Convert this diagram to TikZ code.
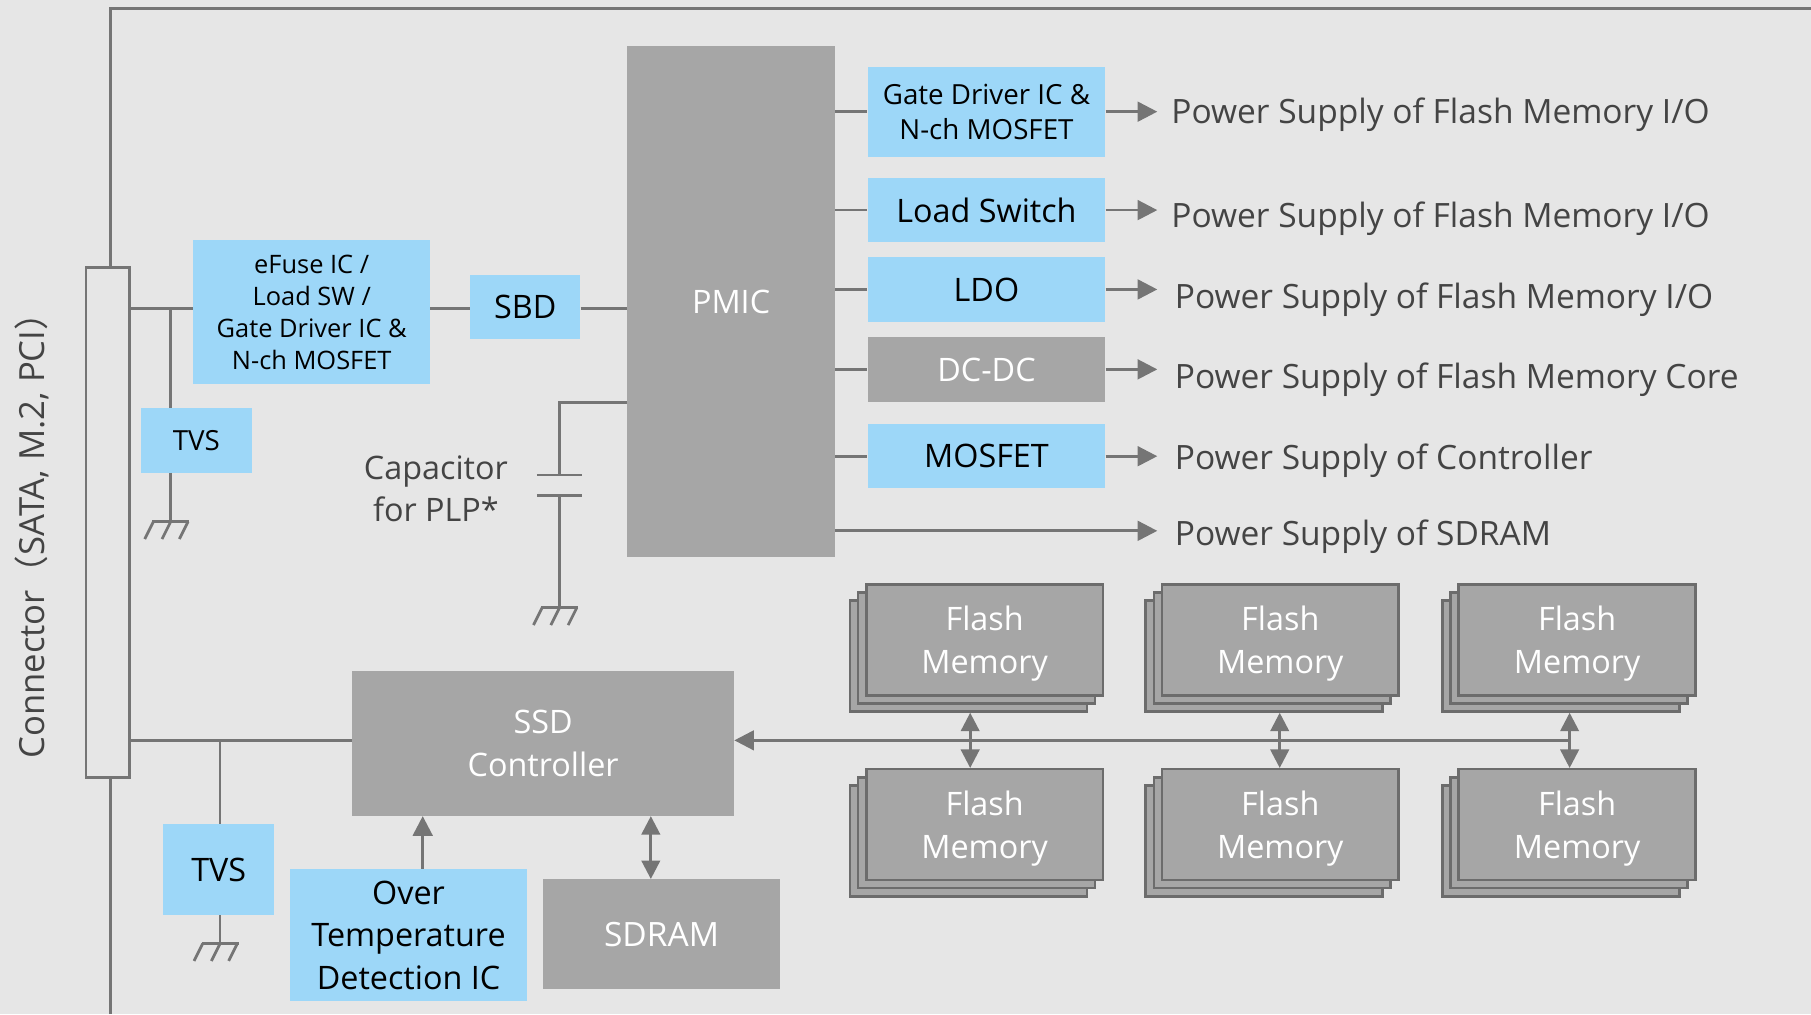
\documentclass[tikz,border=0pt]{standalone}
\usepackage{fontspec}
\setmainfont{Open Sans}
\newfontfamily\cjk{Noto Sans CJK JP}
\usepackage{tikz}
\usetikzlibrary{arrows.meta,positioning}
\definecolor{bggrey}{RGB}{230,230,230}
\definecolor{wiregrey}{RGB}{117,117,117}
\definecolor{boxgrey}{RGB}{166,166,166}
\definecolor{edgegrey}{RGB}{108,108,108}
\definecolor{skyblue}{RGB}{157,215,248}
\definecolor{labelgrey}{RGB}{68,68,68}
\newcommand{\gnd}[1]{\draw[wire] ([xshift=-16pt]#1) -- ([xshift=16pt]#1);
  \foreach \d in {-15,0,15} \draw[wire] ([xshift=\d pt]#1) -- ++(-7.5,15);}

\begin{document}
\begin{tikzpicture}
              [x=1pt,y=-1pt,
                every node/.style={rectangle,draw=none,inner sep=0pt,align=center,text depth=0pt},
                wire/.style={draw=wiregrey,line width=2.4pt},
                arr/.style={wire,-{Triangle[length=17pt,width=17pt]}},
                dbl/.style={wire,{Triangle[length=16pt,width=16pt]}-{Triangle[length=16pt,width=16pt]}},
                bluebox/.style={fill=skyblue,text=black},
                greybox/.style={fill=boxgrey,text=white},
                flash/.style={greybox,draw=edgegrey,line width=2.2pt,minimum width=205pt,minimum height=96pt,font=\fontsize{28}{37}\selectfont},
                supply/.style={anchor=base west,text=labelgrey,font=\fontsize{29}{36}\selectfont}]
              \useasboundingbox (0,0) rectangle (1568,878);
              \fill[bggrey] (0,0) rectangle (1568,878);
              \draw[wire] (96,878) -- (96,7.2) -- (1568,7.2);
              % connector side
              \node[draw=wiregrey,line width=2.4pt,fill=bggrey,minimum width=37.5pt,minimum height=441.6pt] (conn) at (93.25,452.6) {};
              \node[rotate=90,anchor=base west,text=labelgrey,font=\fontsize{30}{36}\selectfont] (conntext) at (38.5,657) {Connector{\cjk （}SATA, M.2, PCI{\cjk ）}};
              \node[bluebox,minimum width=205pt,minimum height=125pt,font=\fontsize{22}{27.7}\selectfont] (efuse) at (269.9,270.3) {eFuse IC /\\Load SW /\\Gate Driver IC \&\\N-ch MOSFET};
              \node[bluebox,minimum width=96pt,minimum height=56pt,font=\fontsize{24}{30}\selectfont] (tvsa) at (170,381.3) {TVS};
              \node[bluebox,minimum width=95.6pt,minimum height=55.8pt,font=\fontsize{28}{34}\selectfont] (sbd) at (454.8,265.9) {SBD};
              \node[greybox,minimum width=180pt,minimum height=442.2pt,font=\fontsize{28}{34}\selectfont] (pmic) at (633,260.9) {PMIC};
              % regulators
              \node[bluebox,minimum width=205.8pt,minimum height=78pt,font=\fontsize{24}{30.4}\selectfont] (gd) at (854.1,96.7) {Gate Driver IC \&\\N-ch MOSFET};
              \node[bluebox,minimum width=205.8pt,minimum height=56pt,font=\fontsize{28}{34}\selectfont] (ls) at (854.1,181.9) {Load Switch};
              \node[bluebox,minimum width=205.8pt,minimum height=56pt,font=\fontsize{28}{34}\selectfont] (ldo) at (854.1,250.6) {LDO};
              \node[greybox,minimum width=205.8pt,minimum height=56.3pt,font=\fontsize{28}{34}\selectfont] (dc) at (854.1,319.8) {DC-DC};
              \node[bluebox,minimum width=205.8pt,minimum height=55.7pt,font=\fontsize{28}{34}\selectfont] (mos) at (854.1,395) {MOSFET};
              \node[supply] (s1) at (1014,106.8) {Power Supply of Flash Memory I/O};
              \node[supply] (s2) at (1014,197.2) {Power Supply of Flash Memory I/O};
              \node[supply] (s3) at (1017,267) {Power Supply of Flash Memory I/O};
              \node[supply] (s4) at (1017,336.3) {Power Supply of Flash Memory Core};
              \node[supply] (s5) at (1017,406.4) {Power Supply of Controller};
              \node[supply] (s6) at (1017,472) {Power Supply of SDRAM};
              \node[text=labelgrey,font=\fontsize{28}{36}\selectfont] (cap) at (377.4,423) {Capacitor\\for PLP*};
              % controller side
              \node[greybox,minimum width=330.6pt,minimum height=125.4pt,font=\fontsize{28}{37}\selectfont] (ctrl) at (470.3,643.7) {SSD\\Controller};
              \node[bluebox,minimum width=96pt,minimum height=78.8pt,font=\fontsize{28}{34}\selectfont] (tvsb) at (189.4,753) {TVS};
              \node[bluebox,minimum width=205.4pt,minimum height=114.1pt,font=\fontsize{28}{37}\selectfont] (otd) at (353.7,809.6) {Over\\Temperature\\Detection IC};
              \node[greybox,minimum width=205.5pt,minimum height=95.3pt,font=\fontsize{29}{35}\selectfont] (sdram) at (572.8,808.9) {SDRAM};
              \foreach \x/\i in {852.5/1,1108.5/2,1365.5/3}
                \foreach \y/\r in {554/a,714/b}{
                  \node[flash] (f\r\i-3) at (\x-14,\y+14) {};
                  \node[flash] (f\r\i-2) at (\x-7,\y+7) {};
                  \node[flash] (f\r\i) at (\x,\y) {Flash\\Memory};
                }
              % wiring
              \coordinate (ja) at (147.8,267.3);
              \coordinate (ga) at (147.8,451.7);
              \coordinate (jb) at (190.5,640.8);
              \coordinate (gb) at (190.5,817);
              \coordinate (ca) at (484.4,348.7);
              \coordinate (cp1) at (484.4,411.3);
              \coordinate (cp2) at (484.4,428.9);
              \coordinate (gc) at (484.4,526.2);
              \coordinate (tip) at (1002,0);
              \coordinate (sdy) at (1002,459.6);
              \coordinate (ot) at (366,0);
              \coordinate (sm) at (563.5,0);
              \coordinate (t1) at (840,641);
              \coordinate (t2) at (1108,641);
              \coordinate (t3) at (1359,641);
              \draw[wire] (conn.east |- ja) -- (efuse.west |- ja);
              \draw[wire] (ja) -- (ja |- tvsa.north);
              \draw[wire] (ja |- tvsa.south) -- (ga);
              \gnd{ga}
              \draw[wire] (efuse.east |- ja) -- (sbd.west |- ja);
              \draw[wire] (sbd.east |- ja) -- (pmic.west |- ja);
              \draw[wire] (pmic.west |- ca) -- (ca) -- (cp1);
              \draw[wire] ([xshift=-19.5pt]cp1) -- ([xshift=19.5pt]cp1);
              \draw[wire] ([xshift=-19.5pt]cp2) -- ([xshift=19.5pt]cp2);
              \draw[wire] (cp2) -- (gc);
              \gnd{gc}
              \foreach \b in {gd,ls,ldo,dc,mos}{
                \draw[wire] (pmic.east |- \b.west) -- (\b.west);
                \draw[arr] (\b.east) -- (\b.east -| tip);
              }
              \draw[arr] (pmic.east |- sdy) -- (sdy);
              \draw[wire] (conn.east |- jb) -- (ctrl.west |- jb);
              \draw[wire] (jb) -- (jb |- tvsb.north);
              \draw[wire] (jb |- tvsb.south) -- (gb);
              \gnd{gb}
              \draw[arr] (otd.north -| ot) -- (ctrl.south -| ot);
              \draw[dbl] (sdram.north -| sm) -- (ctrl.south -| sm);
              \draw[arr] (t3) -- (ctrl.east |- t3);
              \foreach \i in {1,2,3}
                \draw[dbl] (t\i |- fa\i-3.south) -- (t\i |- fb\i.north);
            \end{tikzpicture}
\end{document}
